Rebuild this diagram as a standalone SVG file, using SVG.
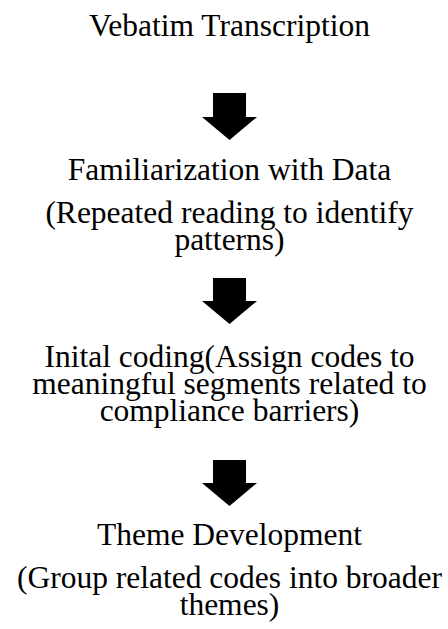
<svg xmlns="http://www.w3.org/2000/svg" width="448" height="629" viewBox="0 0 448 629">
<style>
.t{font-family:'Liberation Serif','DejaVu Serif',serif;font-size:31.5px;fill:#000;text-anchor:middle}
.arr{fill:#000;stroke:none}
</style>
<rect width="448" height="629" fill="#fff"/>
<g id="node-transcription"><text class="t" x="229.5" y="36">Vebatim Transcription</text></g>
<g id="node-familiarization"><text class="t" x="229.5" y="180">Familiarization with Data</text><text class="t" x="229.5" y="223">(Repeated reading to identify</text><text class="t" x="229.5" y="250">patterns)</text></g>
<g id="node-coding"><text class="t" x="229.5" y="367">Inital coding(Assign codes to</text><text class="t" x="229.5" y="394">meaningful segments related to</text><text class="t" x="229.5" y="421">compliance barriers)</text></g>
<g id="node-theme"><text class="t" x="229.5" y="545">Theme Development</text><text class="t" x="229.5" y="588">(Group related codes into broader</text><text class="t" x="229.5" y="615">themes)</text></g>
<g id="connectors">
<polygon class="arr" points="213,93 246,93 246,117 257,117 229.5,140 202,117 213,117"/>
<polygon class="arr" points="213,278 246,278 246,301 257,301 229.5,324 202,301 213,301"/>
<polygon class="arr" points="213,460 246,460 246,483 257,483 229.5,506 202,483 213,483"/>
</g>
</svg>
